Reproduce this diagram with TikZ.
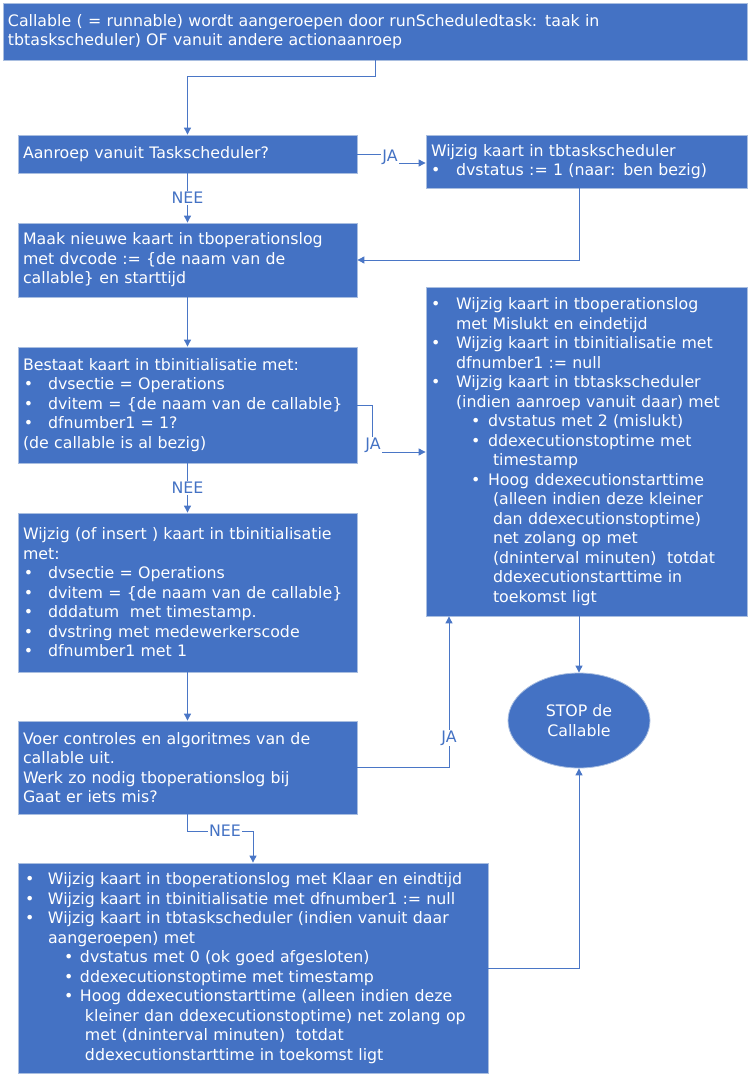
\documentclass[tikz,border=0pt]{standalone}
\usepackage{fontspec}
\setmainfont{DejaVu Sans}
\usetikzlibrary{arrows.meta,shapes.geometric,calc}
\definecolor{fc}{HTML}{4472C4}
\definecolor{bc}{HTML}{A9BEE0}
\definecolor{lc}{HTML}{4A76C6}
\newcommand\bul[2]{\hspace*{#1pt}\rlap{•}\hspace*{\dimexpr #2pt - #1pt\relax}}
\newcommand\ind[1]{\hspace*{#1pt}}
\begin{document}
\begin{tikzpicture}[x=1pt,y=-1pt,
 every node/.style={font=\fontsize{15.8}{19.5}\selectfont},
 box/.style={draw=bc, line width=0.8pt, fill=fc, text=white, align=left, inner xsep=5pt, inner ysep=0pt},
 arr/.style={draw=lc, line width=0.9pt, -{Triangle[length=7pt,width=7pt]}},
 lab/.style={text=fc, fill=white, inner sep=1pt}]
\useasboundingbox (0,0) rectangle (749,1075);

\node[box, text width=734pt, minimum height=57pt] (top) at (375,31.5)
 {Callable ( = runnable) wordt aangeroepen door runScheduledtask: taak in\\
  tbtaskscheduler) OF vanuit andere actionaanroep};

\node[box, text width=329pt, minimum height=38pt] (q1) at (187.5,154)
 {Aanroep vanuit Taskscheduler?};

\node[box, text width=311pt, minimum height=53pt] (ts) at (586.5,161.5)
 {Wijzig kaart in tbtaskscheduler\\
  \bul{0}{25}dvstatus := 1 (naar: ben bezig)};

\node[box, text width=329pt, minimum height=74pt] (maak) at (187.5,260)
 {Maak nieuwe kaart in tboperationslog\\
  met dvcode := \{de naam van de\\
  callable\} en starttijd};

\node[box, text width=329pt, minimum height=116pt] (bestaat) at (187.5,405)
 {Bestaat kaart in tbinitialisatie met:\\
  \bul{1}{25}dvsectie = Operations\\
  \bul{1}{25}dvitem = \{de naam van de callable\}\\
  \bul{1}{25}dfnumber1 = 1?\\
  (de callable is al bezig)};

\node[box, text width=311pt, minimum height=329pt] (fail) at (586.5,451.5)
 {\bul{0}{25}Wijzig kaart in tboperationslog\\
  \ind{25}met Mislukt en eindetijd\\
  \bul{0}{25}Wijzig kaart in tbinitialisatie met\\
  \ind{25}dfnumber1 := null\\
  \bul{0}{25}Wijzig kaart in tbtaskscheduler\\
  \ind{25}(indien aanroep vanuit daar) met\\
  \bul{40}{57}dvstatus met 2 (mislukt)\\
  \bul{40}{57}ddexecutionstoptime met\\
  \ind{62}timestamp\\
  \bul{40}{57}Hoog ddexecutionstarttime\\
  \ind{62}(alleen indien deze kleiner\\
  \ind{62}dan ddexecutionstoptime)\\
  \ind{62}net zolang op met\\
  \ind{62}(dninterval minuten)~ totdat\\
  \ind{62}ddexecutionstarttime in\\
  \ind{62}toekomst ligt};

\node[box, text width=329pt, minimum height=159pt] (insert) at (187.5,592.5)
 {Wijzig (of insert ) kaart in tbinitialisatie\\
  met:\\
  \bul{1}{25}dvsectie = Operations\\
  \bul{1}{25}dvitem = \{de naam van de callable\}\\
  \bul{1}{25}dddatum~ met timestamp.\\
  \bul{1}{25}dvstring met medewerkerscode\\
  \bul{1}{25}dfnumber1 met 1};

\node[box, text width=329pt, minimum height=93pt] (voer) at (187.5,767.5)
 {Voer controles en algoritmes van de\\
  callable uit.\\
  Werk zo nodig tboperationslog bij\\
  Gaat er iets mis?};

\node[box, text width=460pt, minimum height=210pt] (done) at (253,968)
 {\bul{2}{25}Wijzig kaart in tboperationslog met Klaar en eindtijd\\
  \bul{2}{25}Wijzig kaart in tbinitialisatie met dfnumber1 := null\\
  \bul{2}{25}Wijzig kaart in tbtaskscheduler (indien vanuit daar\\
  \ind{25}aangeroepen) met\\
  \bul{41}{57}dvstatus met 0 (ok goed afgesloten)\\
  \bul{41}{57}ddexecutionstoptime met timestamp\\
  \bul{41}{57}Hoog ddexecutionstarttime (alleen indien deze\\
  \ind{62}kleiner dan ddexecutionstoptime) net zolang op\\
  \ind{62}met (dninterval minuten)~ totdat\\
  \ind{62}ddexecutionstarttime in toekomst ligt};

\node[ellipse, draw=bc, line width=0.8pt, fill=fc, text=white, align=center,
      inner sep=0pt, minimum width=142pt, minimum height=95pt] (stop) at (579,720.5)
 {STOP de\\Callable};

\coordinate (cx) at (579,0);
\coordinate (j1) at (390,163);
\coordinate (j2) at (372,452);
\coordinate (j3) at (449,0);

\draw[arr] (top.south) -- ++(0,16) -| (q1.north);
\draw[arr] (q1.east) -| (j1) -- (j1 -| ts.west);
\node[lab] (ja1) at (390,157) {JA};
\draw[arr] (q1.south) -- (maak.north) node[lab, midway] (nee1) {NEE};
\draw[arr] (ts.south -| cx) |- (maak.east);
\draw[arr] (maak.south) -- (bestaat.north);
\draw[arr] (bestaat.east) -| (j2) -- (j2 -| fail.west);
\node[lab] (ja2) at (373,445) {JA};
\draw[arr] (bestaat.south) -- (insert.north) node[lab, midway] (nee2) {NEE};
\draw[arr] (insert.south) -- (voer.north);
\draw[arr] (voer.east) -| (fail.south -| j3);
\node[lab] (ja3) at (449,738) {JA};
\draw[arr] (voer.south) -- ++(0,17) -| (done.north);
\node[lab] (nee3) at (225,831) {NEE};
\draw[arr] (fail.south -| cx) -- (stop.north);
\draw[arr] (done.east) -| (stop.south);
\end{tikzpicture}
\end{document}
